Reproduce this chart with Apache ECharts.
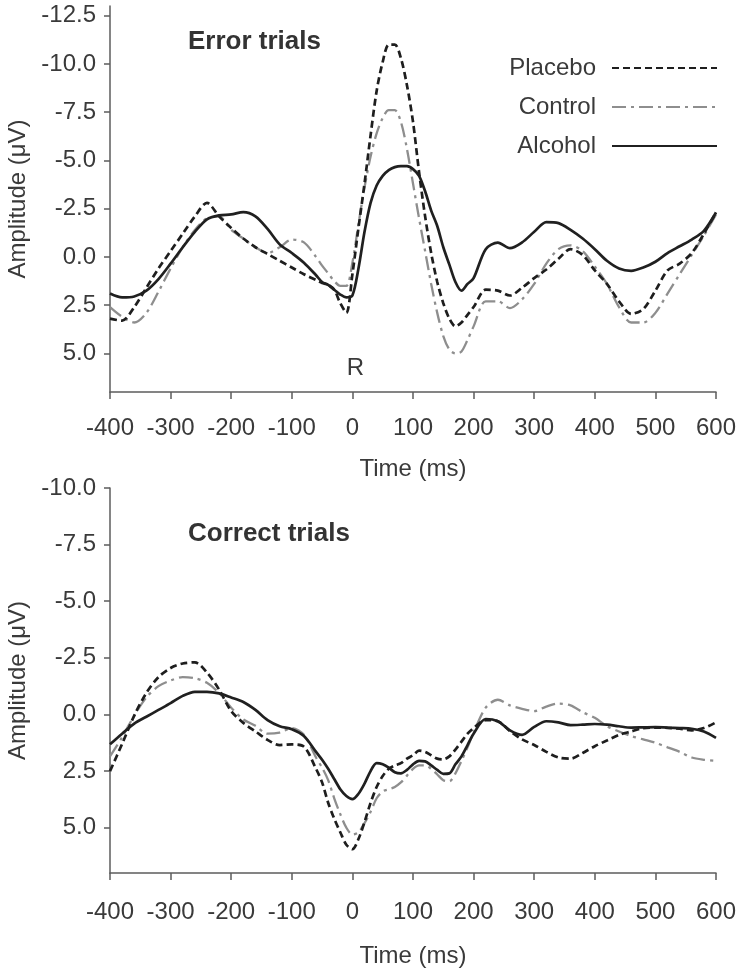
<!DOCTYPE html>
<html><head><meta charset="utf-8">
<script src="https://cdn.jsdelivr.net/npm/echarts@6/dist/echarts.min.js"></script>
<style>html,body{margin:0;padding:0;background:#fff}#c{width:750px;height:975px}</style>
</head><body><div id="c"></div>
<script>
// Time points (ms)
const times = [-400,-380,-360,-340,-320,-300,-280,-260,-240,-220,-200,-180,-160,-140,-120,-100,-80,-60,
  -50,-40,-30,-20,-10,0,10,20,30,40,50,60,70,80,90,100,110,120,130,140,150,160,170,180,190,200,
  220,240,260,280,300,320,340,360,380,400,420,440,460,480,500,520,540,560,580,600];

// Error trials (µV)
const errPlacebo = [3.2,3.3,2.6,1.6,0.6,-0.3,-1.2,-2.1,-2.8,-2.1,-1.5,-0.95,-0.5,-0.15,0.2,0.55,0.9,1.2,
  1.35,1.45,1.7,2.4,2.9,0.9,-1.5,-3.8,-6.3,-8.6,-10.1,-11.0,-11.0,-10.3,-8.9,-7.0,-4.4,-2.1,-0.2,1.3,2.4,3.2,3.6,3.4,3.0,2.6,
  1.7,1.75,2.0,1.6,1.1,0.65,0.1,-0.4,-0.1,0.7,1.4,2.3,2.95,2.7,1.75,0.7,0.35,-0.2,-1.2,-2.3];
const errControl = [2.6,3.1,3.4,2.9,1.8,0.6,-0.5,-1.4,-2.0,-2.1,-1.4,-0.95,-0.5,-0.2,-0.5,-0.9,-0.75,0.0,
  0.45,0.85,1.25,1.5,1.5,0.3,-1.7,-3.6,-5.2,-6.4,-7.2,-7.6,-7.6,-7.0,-5.6,-3.8,-2.0,-0.3,1.4,2.9,4.1,4.8,5.0,4.9,4.3,3.6,
  2.3,2.3,2.65,2.2,1.4,0.35,-0.4,-0.6,-0.3,0.5,1.4,2.6,3.4,3.4,2.9,1.9,0.9,-0.1,-1.1,-2.2];
const errAlcohol = [1.9,2.1,2.05,1.75,1.15,0.35,-0.5,-1.3,-1.95,-2.15,-2.2,-2.32,-2.1,-1.45,-0.65,-0.2,0.3,0.95,
  1.3,1.45,1.7,1.95,2.1,2.0,0.6,-1.3,-2.8,-3.7,-4.2,-4.5,-4.65,-4.7,-4.7,-4.55,-4.2,-3.4,-2.4,-1.6,-0.5,0.4,1.3,1.75,1.4,1.1,
  -0.4,-0.74,-0.45,-0.75,-1.3,-1.8,-1.75,-1.4,-0.95,-0.4,0.2,0.6,0.72,0.55,0.25,-0.2,-0.55,-0.9,-1.35,-2.3];

// Correct trials (µV)
const corPlacebo = [2.5,1.3,0.05,-0.95,-1.65,-2.05,-2.25,-2.3,-1.85,-1.1,-0.15,0.37,0.75,1.12,1.35,1.32,1.42,2.4,
  3.0,3.9,4.6,5.2,5.75,5.95,5.5,4.75,3.9,3.2,2.72,2.4,2.25,2.15,1.95,1.8,1.6,1.65,1.8,1.95,1.98,1.85,1.55,1.2,0.85,0.6,
  0.25,0.3,0.73,1.1,1.35,1.65,1.9,1.95,1.7,1.4,1.15,0.9,0.75,0.6,0.58,0.59,0.63,0.7,0.6,0.35];
const corControl = [1.85,1.0,0.05,-0.75,-1.25,-1.5,-1.65,-1.6,-1.4,-0.95,-0.3,0.22,0.5,0.85,0.8,0.6,0.9,1.9,
  2.35,2.9,3.7,4.4,5.0,5.3,5.2,4.8,4.3,3.7,3.4,3.3,3.2,3.0,2.7,2.4,2.25,2.25,2.4,2.65,2.9,2.95,2.6,2.05,1.45,0.8,
  -0.3,-0.65,-0.4,-0.25,-0.15,-0.35,-0.48,-0.4,-0.1,0.15,0.52,0.75,0.95,1.1,1.25,1.45,1.65,1.9,2.0,2.05];
const corAlcohol = [1.32,0.85,0.4,0.1,-0.2,-0.5,-0.82,-1.0,-1.0,-0.93,-0.75,-0.55,-0.2,0.25,0.52,0.65,0.95,1.65,
  2.0,2.4,2.85,3.3,3.6,3.74,3.5,3.05,2.5,2.15,2.2,2.35,2.55,2.6,2.45,2.2,2.05,2.07,2.25,2.45,2.62,2.6,2.2,1.85,1.35,0.85,
  0.2,0.3,0.7,0.9,0.55,0.3,0.35,0.47,0.45,0.42,0.45,0.52,0.58,0.57,0.56,0.58,0.6,0.63,0.75,1.03];

const seriesNames = ['Placebo','Control','Alcohol'];
const errYTicks = [-12.5,-10,-7.5,-5,-2.5,0,2.5,5];
const corYTicks = [-10,-7.5,-5,-2.5,0,2.5,5];
const panelTitles = ['Error trials','Correct trials'];
const xName = 'Time (ms)';
const yName = 'Amplitude (μV)';
const responseMark = 'R';

const FONT = '"Liberation Sans", Arial, sans-serif';
const FS = 24;
const axisCol = '#5c5c5c', textCol = '#3a3a3a';
const styles = {
  Placebo: {color:'#1e1e1e', width:2.7, type:[7,4]},
  Control: {color:'#8e8e8e', width:2.3, type:[14,5,3,5]},
  Alcohol: {color:'#202020', width:2.7, type:'solid'}
};

const pairs = vals => times.map((t,i)=>[t, vals[i]]);

function xAxis(gridIndex, margin, gap){
  return {type:'value', gridIndex, min:-400, max:600, interval:100,
    name:xName, nameLocation:'middle', nameGap:gap,
    nameTextStyle:{fontFamily:FONT, fontSize:FS, color:textCol},
    axisLine:{show:true, onZero:false, lineStyle:{color:axisCol, width:1.5}},
    axisTick:{show:true, length:7, lineStyle:{color:axisCol, width:1.5}},
    axisLabel:{fontFamily:FONT, fontSize:FS, color:textCol, margin, hideOverlap:false},
    splitLine:{show:false}};
}
function yAxis(gridIndex, min, max, ticks){
  return {type:'value', gridIndex, min, max, inverse:true,
    name:yName, nameLocation:'middle', nameGap:78, nameRotate:90,
    nameTextStyle:{fontFamily:FONT, fontSize:FS, color:textCol},
    axisLine:{show:true, onZero:false, lineStyle:{color:axisCol, width:1.5}},
    axisTick:{show:true, length:6, customValues:ticks, lineStyle:{color:axisCol, width:1.5}},
    axisLabel:{customValues:ticks, formatter:v=>Number(v).toFixed(1), fontFamily:FONT, fontSize:FS, color:textCol, margin:14},
    splitLine:{show:false}};
}

const errData = {Placebo:errPlacebo, Control:errControl, Alcohol:errAlcohol};
const corData = {Placebo:corPlacebo, Control:corControl, Alcohol:corAlcohol};

const series = [];
[errData, corData].forEach((set, gi)=>{
  seriesNames.forEach(n=>{
    const s = {type:'line', name:n, xAxisIndex:gi, yAxisIndex:gi, data:pairs(set[n]),
      smooth:0.3, symbol:'none', lineStyle:Object.assign({}, styles[n]),
      itemStyle:{color:styles[n].color}, z: n==='Control'?2:3, animation:false};
    if(gi===0 && n==='Placebo'){
      s.markPoint = {symbol:'circle', symbolSize:1, silent:true, itemStyle:{color:'rgba(0,0,0,0)'},
        data:[{coord:[5, 5.8], label:{show:true, position:'inside', formatter:responseMark, fontFamily:FONT, fontSize:FS, color:textCol}}]};
    }
    series.push(s);
  });
});

const legendTops = [56, 95, 134];
const option = {
  backgroundColor:'#fff',
  animation:false,
  title: panelTitles.map((t,i)=>({text:t, left:188, top:[29,521][i], padding:0,
    textStyle:{fontFamily:FONT, fontSize:26, fontWeight:'bold', color:'#333'}})),
  legend: seriesNames.map((n,i)=>({data:[n], right:32, top:legendTops[i], orient:'vertical', align:'right',
    itemWidth:105, itemHeight:14, padding:0, selectedMode:false,
    itemStyle:{opacity:0},
    textStyle:{fontFamily:FONT, fontSize:FS, color:textCol, padding:[0,11,0,0]}})),
  grid:[{left:110, right:34, top:6, height:386, outerBoundsMode:'none', containLabel:false},
        {left:110, right:34, top:488, height:385, outerBoundsMode:'none', containLabel:false}],
  xAxis:[xAxis(0, 24, 65), xAxis(1, 27, 71)],
  yAxis:[yAxis(0, -13, 7, errYTicks), yAxis(1, -10, 7, corYTicks)],
  series
};
const chart = echarts.init(document.getElementById('c'), null, {renderer:'canvas'});
chart.setOption(option);
</script></body></html>
